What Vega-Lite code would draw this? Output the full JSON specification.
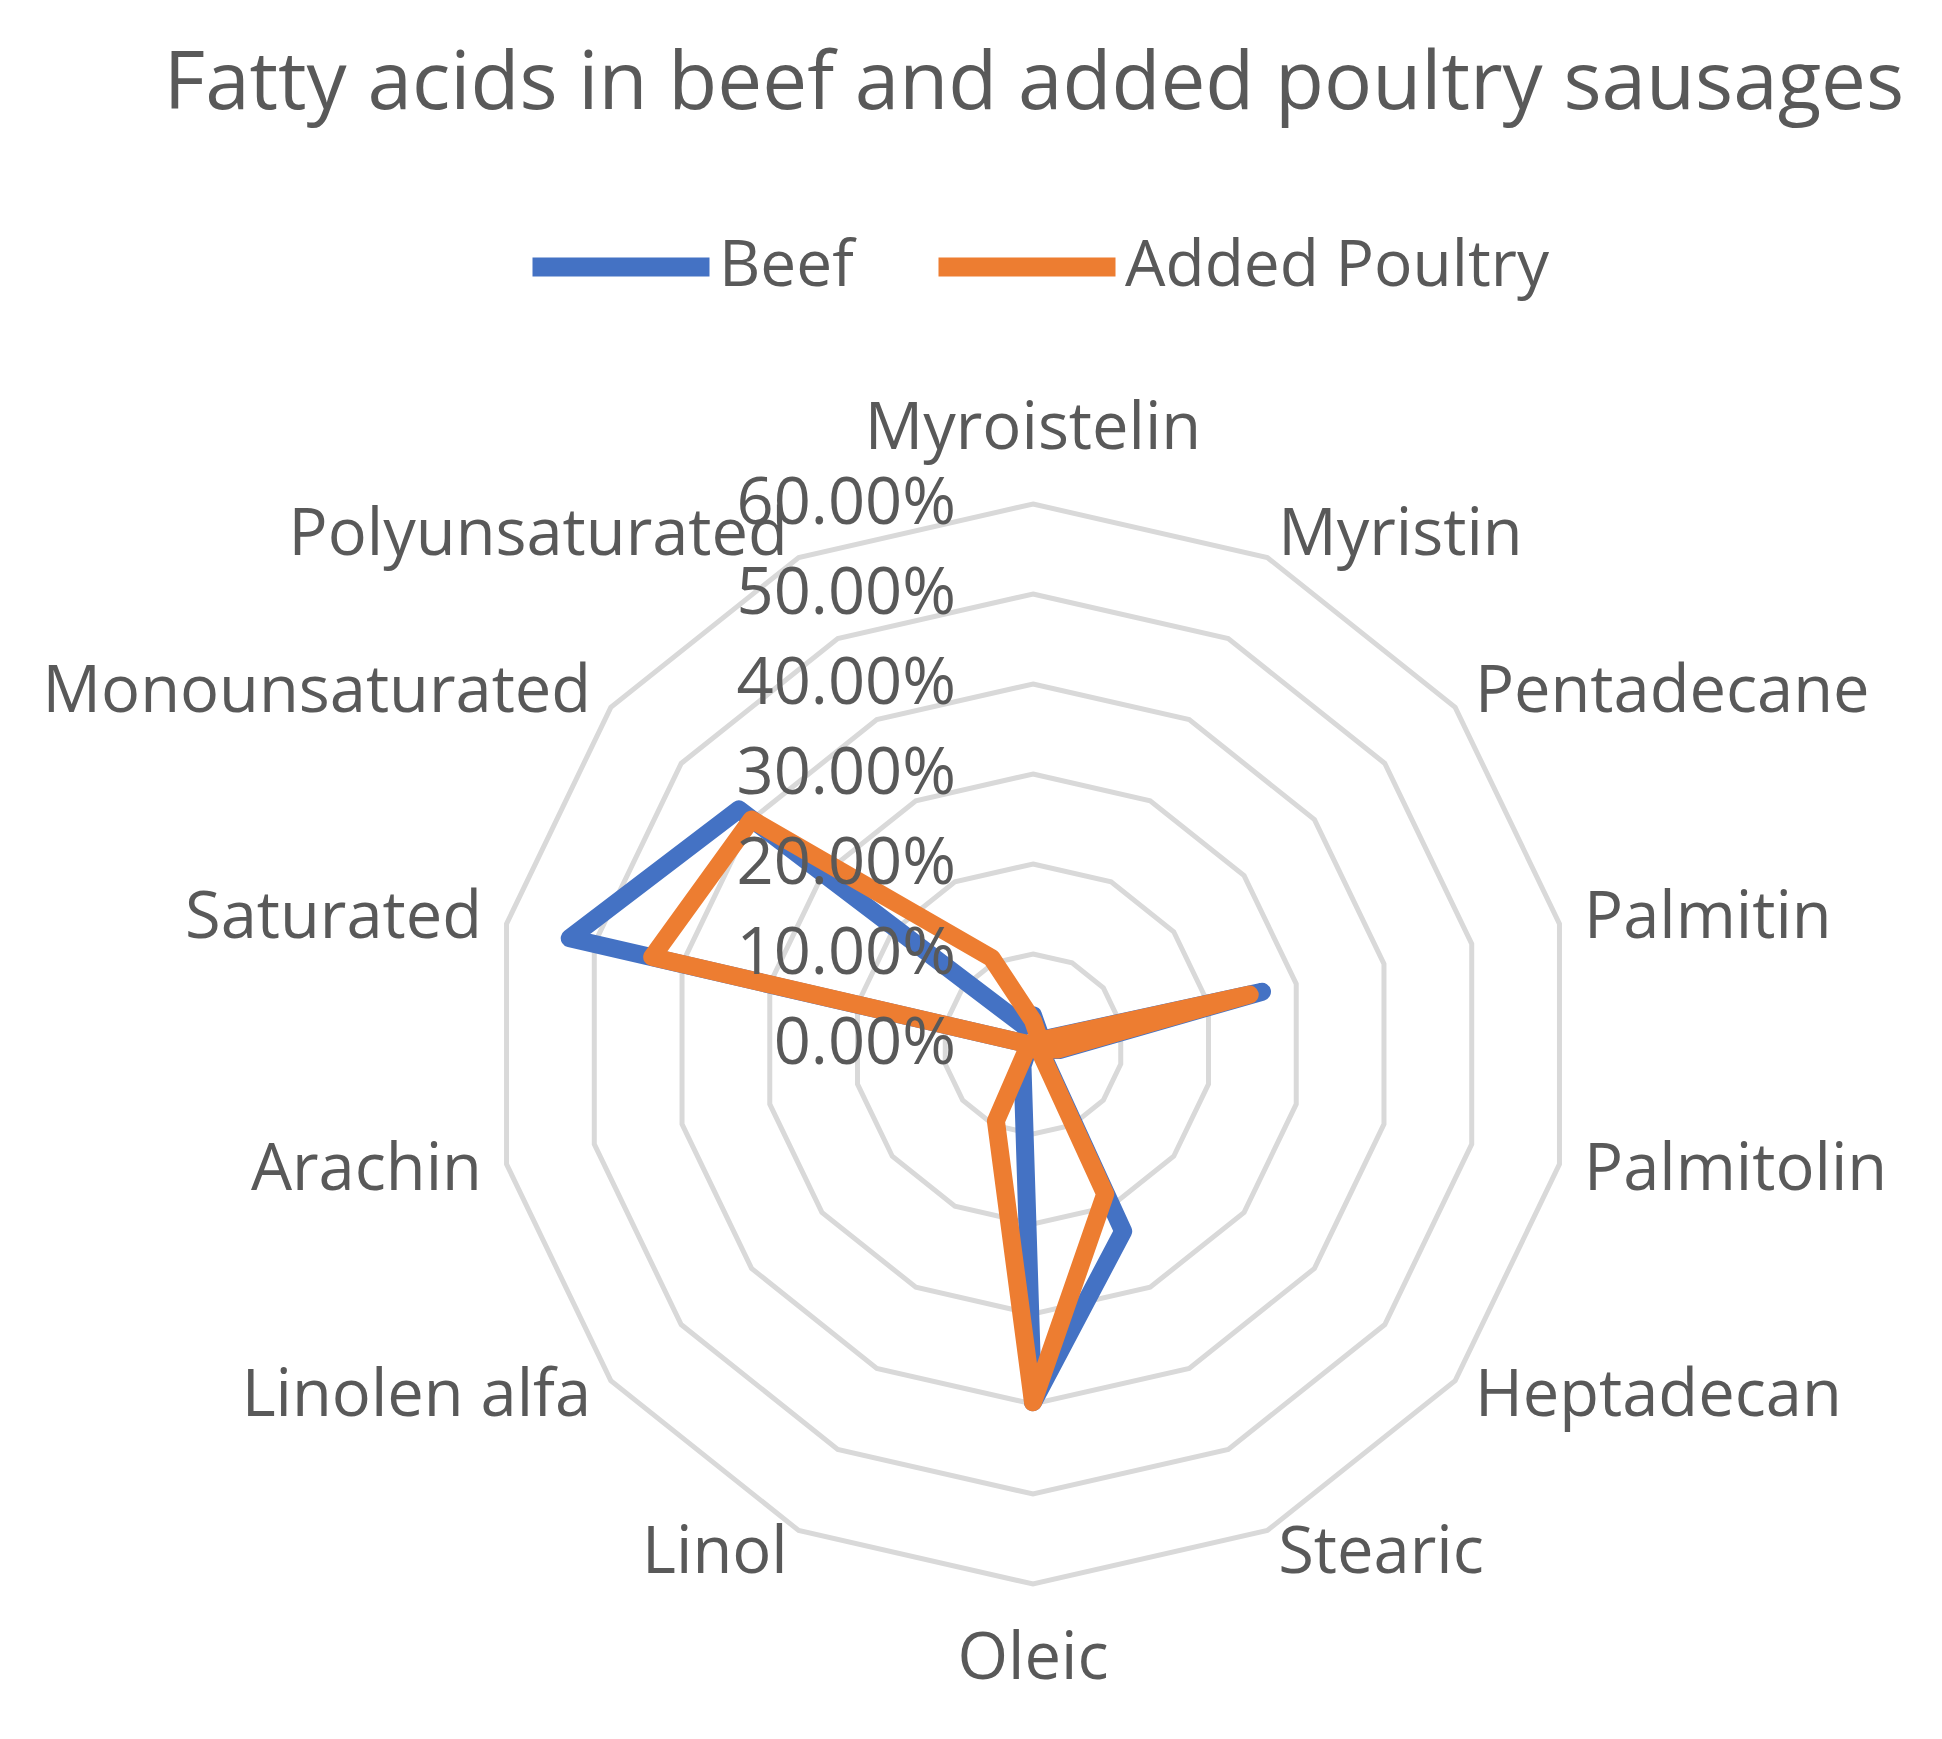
{
  "$schema": "https://vega.github.io/schema/vega-lite/v6.json",
  "width": 1942,
  "height": 1739,
  "autosize": {"type": "none"},
  "padding": 0,
  "background": "white",
  "config": {"view": {"stroke": null}, "font": "Open Sans"},
  "title": {
    "text": "Fatty acids in beef and added poultry sausages",
    "fontSize": 80,
    "font": "Open Sans",
    "fontWeight": "normal",
    "color": "#595959",
    "anchor": "middle",
    "frame": "group",
    "offset": -112,
    "dy": 77,
    "dx": 63,
    "baseline": "alphabetic"
  },
  "data": {
    "values": [
      {"cat": "Myroistelin", "Beef": 0.032, "Added Poultry": 0.026, "rings": [0, 0.1, 0.2, 0.3, 0.4, 0.5, 0.6]},
      {"cat": "Myristin", "Beef": 0.015, "Added Poultry": 0.012, "rings": [0, 0.1, 0.2, 0.3, 0.4, 0.5, 0.6]},
      {"cat": "Pentadecane", "Beef": 0.006, "Added Poultry": 0.005, "rings": [0, 0.1, 0.2, 0.3, 0.4, 0.5, 0.6]},
      {"cat": "Palmitin", "Beef": 0.261, "Added Poultry": 0.247, "rings": [0, 0.1, 0.2, 0.3, 0.4, 0.5, 0.6]},
      {"cat": "Palmitolin", "Beef": 0.03, "Added Poultry": 0.028, "rings": [0, 0.1, 0.2, 0.3, 0.4, 0.5, 0.6]},
      {"cat": "Heptadecan", "Beef": 0.01, "Added Poultry": 0.008, "rings": [0, 0.1, 0.2, 0.3, 0.4, 0.5, 0.6]},
      {"cat": "Stearic", "Beef": 0.231, "Added Poultry": 0.185, "rings": [0, 0.1, 0.2, 0.3, 0.4, 0.5, 0.6]},
      {"cat": "Oleic", "Beef": 0.398, "Added Poultry": 0.398, "rings": [0, 0.1, 0.2, 0.3, 0.4, 0.5, 0.6]},
      {"cat": "Linol", "Beef": 0.027, "Added Poultry": 0.095, "rings": [0, 0.1, 0.2, 0.3, 0.4, 0.5, 0.6]},
      {"cat": "Linolen alfa", "Beef": 0.006, "Added Poultry": 0.008, "rings": [0, 0.1, 0.2, 0.3, 0.4, 0.5, 0.6]},
      {"cat": "Arachin", "Beef": 0.003, "Added Poultry": 0.003, "rings": [0, 0.1, 0.2, 0.3, 0.4, 0.5, 0.6]},
      {"cat": "Saturated", "Beef": 0.528, "Added Poultry": 0.434, "rings": [0, 0.1, 0.2, 0.3, 0.4, 0.5, 0.6]},
      {"cat": "Monounsaturated", "Beef": 0.418, "Added Poultry": 0.4, "rings": [0, 0.1, 0.2, 0.3, 0.4, 0.5, 0.6]},
      {"cat": "Polyunsaturated", "Beef": 0.022, "Added Poultry": 0.106, "rings": [0, 0.1, 0.2, 0.3, 0.4, 0.5, 0.6]}
    ]
  },
  "transform": [
    {"window": [{"op": "row_number", "as": "idx"}]},
    {"calculate": "(datum.idx - 1) * 2 * PI / 14", "as": "angle"}
  ],
  "layer": [
    {
      "transform": [
        {"flatten": ["rings"], "as": ["ring"]},
        {"filter": "datum.ring > 0"},
        {"calculate": "datum.ring * sin(datum.angle)", "as": "gx"},
        {"calculate": "datum.ring * cos(datum.angle)", "as": "gy"}
      ],
      "mark": {"type": "line", "interpolate": "linear-closed", "stroke": "#d9d9d9", "strokeWidth": 5},
      "encoding": {
        "x": {"field": "gx", "type": "quantitative", "scale": {"domain": [-1.14778, 1.01], "nice": false, "zero": false}, "axis": null},
        "y": {"field": "gy", "type": "quantitative", "scale": {"domain": [-0.77222, 1.16], "nice": false, "zero": false}, "axis": null},
        "detail": {"field": "ring", "type": "nominal"},
        "order": {"field": "idx", "type": "quantitative"}
      }
    },
    {
      "transform": [
        {"filter": "datum.idx >= 2 && datum.idx <= 7"},
        {"calculate": "0.628 * sin(datum.angle)", "as": "lx"},
        {"calculate": "0.628 * cos(datum.angle)", "as": "ly"}
      ],
      "mark": {"type": "text", "align": "left", "baseline": "middle", "fontSize": 65, "font": "Open Sans", "color": "#595959"},
      "encoding": {
        "x": {"field": "lx", "type": "quantitative", "scale": {"domain": [-1.14778, 1.01], "nice": false, "zero": false}, "axis": null},
        "y": {"field": "ly", "type": "quantitative", "scale": {"domain": [-0.77222, 1.16], "nice": false, "zero": false}, "axis": null},
        "text": {"field": "cat", "type": "nominal"}
      }
    },
    {
      "transform": [
        {"filter": "datum.idx >= 9"},
        {"calculate": "0.628 * sin(datum.angle)", "as": "lx"},
        {"calculate": "0.628 * cos(datum.angle)", "as": "ly"}
      ],
      "mark": {"type": "text", "align": "right", "baseline": "middle", "fontSize": 65, "font": "Open Sans", "color": "#595959"},
      "encoding": {
        "x": {"field": "lx", "type": "quantitative", "scale": {"domain": [-1.14778, 1.01], "nice": false, "zero": false}, "axis": null},
        "y": {"field": "ly", "type": "quantitative", "scale": {"domain": [-0.77222, 1.16], "nice": false, "zero": false}, "axis": null},
        "text": {"field": "cat", "type": "nominal"}
      }
    },
    {
      "transform": [
        {"filter": "datum.idx == 1 || datum.idx == 8"},
        {"calculate": "0.683 * sin(datum.angle)", "as": "lx"},
        {"calculate": "0.683 * cos(datum.angle)", "as": "ly"}
      ],
      "mark": {"type": "text", "align": "center", "baseline": "middle", "fontSize": 65, "font": "Open Sans", "color": "#595959"},
      "encoding": {
        "x": {"field": "lx", "type": "quantitative", "scale": {"domain": [-1.14778, 1.01], "nice": false, "zero": false}, "axis": null},
        "y": {"field": "ly", "type": "quantitative", "scale": {"domain": [-0.77222, 1.16], "nice": false, "zero": false}, "axis": null},
        "text": {"field": "cat", "type": "nominal"}
      }
    },
    {
      "transform": [
        {"fold": ["Beef", "Added Poultry"], "as": ["series", "val"]},
        {"filter": "datum.series == 'Beef'"},
        {"calculate": "datum.val * sin(datum.angle)", "as": "px"},
        {"calculate": "datum.val * cos(datum.angle)", "as": "py"}
      ],
      "mark": {"type": "line", "interpolate": "linear-closed", "strokeWidth": 18, "strokeJoin": "round", "strokeCap": "round"},
      "encoding": {
        "x": {"field": "px", "type": "quantitative", "scale": {"domain": [-1.14778, 1.01], "nice": false, "zero": false}, "axis": null},
        "y": {"field": "py", "type": "quantitative", "scale": {"domain": [-0.77222, 1.16], "nice": false, "zero": false}, "axis": null},
        "color": {
          "field": "series",
          "type": "nominal",
          "scale": {"domain": ["Beef", "Added Poultry"], "range": ["#4472C4", "#ED7D31"]},
          "legend": {
            "orient": "none",
            "legendX": 523,
            "legendY": 169,
            "direction": "horizontal",
            "title": null,
            "symbolType": "stroke",
            "symbolSize": 31329,
            "symbolStrokeWidth": 19,
            "labelFontSize": 64,
            "labelFont": "Open Sans",
            "labelColor": "#595959",
            "labelOffset": 0,
            "columnPadding": 46,
            "padding": 0,
            "labelLimit": 1000
          }
        },
        "order": {"field": "idx", "type": "quantitative"}
      }
    },
    {
      "transform": [
        {"fold": ["Beef", "Added Poultry"], "as": ["series", "val"]},
        {"filter": "datum.series == 'Added Poultry'"},
        {"calculate": "datum.val * sin(datum.angle)", "as": "px"},
        {"calculate": "datum.val * cos(datum.angle)", "as": "py"}
      ],
      "mark": {"type": "line", "interpolate": "linear-closed", "strokeWidth": 18, "strokeJoin": "round", "strokeCap": "round"},
      "encoding": {
        "x": {"field": "px", "type": "quantitative", "scale": {"domain": [-1.14778, 1.01], "nice": false, "zero": false}, "axis": null},
        "y": {"field": "py", "type": "quantitative", "scale": {"domain": [-0.77222, 1.16], "nice": false, "zero": false}, "axis": null},
        "color": {"field": "series", "type": "nominal", "scale": {"domain": ["Beef", "Added Poultry"], "range": ["#4472C4", "#ED7D31"]}},
        "order": {"field": "idx", "type": "quantitative"}
      }
    },
    {
      "transform": [
        {"filter": "datum.idx == 1"},
        {"flatten": ["rings"], "as": ["ring"]},
        {"calculate": "0", "as": "ax"}
      ],
      "mark": {"type": "text", "align": "right", "baseline": "middle", "dx": -77, "fontSize": 65, "font": "Open Sans", "color": "#595959"},
      "encoding": {
        "x": {"field": "ax", "type": "quantitative", "scale": {"domain": [-1.14778, 1.01], "nice": false, "zero": false}, "axis": null},
        "y": {"field": "ring", "type": "quantitative", "scale": {"domain": [-0.77222, 1.16], "nice": false, "zero": false}, "axis": null},
        "text": {"field": "ring", "type": "quantitative", "format": ".2%"}
      }
    }
  ]
}
